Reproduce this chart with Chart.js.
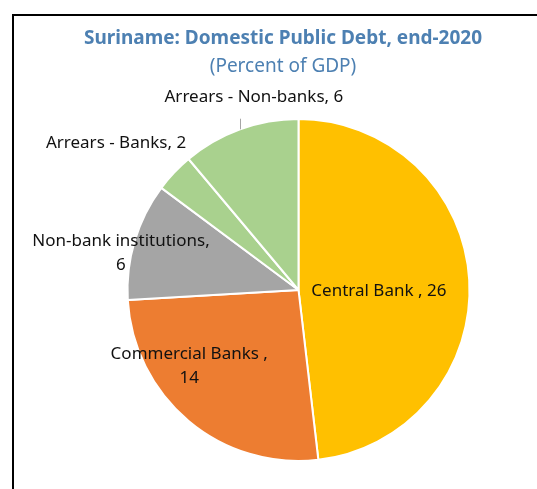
<!DOCTYPE html>
<html>
<head>
<meta charset="utf-8">
<script src="https://cdn.jsdelivr.net/npm/chart.js@4.4.1/dist/chart.umd.min.js"></script>
<style>
  html, body { margin: 0; padding: 0; background: #fff; overflow: hidden; }
  #frame { position: absolute; left: 12px; top: 14px; width: 620px; height: 620px;
           border-left: 2px solid #000; border-top: 2px solid #000; }
  #pie { position: absolute; left: 0; top: 0; }
</style>
</head>
<body>
<div id="frame"></div>
<canvas id="pie" width="537" height="489"></canvas>
<script>
/* Domestic public debt by holder, end-2020, % of GDP */
const categories = ['Central Bank ', 'Commercial Banks ', 'Non-bank institutions', 'Arrears - Banks', 'Arrears - Non-banks'];
const values = [26, 14, 6, 2, 6];
const sliceColors = ['#FFC000', '#ED7D31', '#A5A5A5', '#A9D18E', '#A9D18E'];

const TITLE = 'Suriname: Domestic Public Debt, end-2020';
const SUBTITLE = '(Percent of GDP)';
const TITLE_COLOR = '#4d80b2';
const FONT = '"Noto Sans", "Open Sans", sans-serif';

// label placement per slice: angular shift off the slice middle (deg),
// distance from centre in radii, whether the text wraps after the comma, leader line
const labelPlace = [
  { shift: 4,    dist: 0.47, wrap: false, leader: false },
  { shift: 15,   dist: 0.78, wrap: true,  leader: false },
  { shift: -5,   dist: 1.06, wrap: true,  leader: false },
  { shift: -4.5, dist: 1.37, wrap: false, leader: false },
  { shift: 7,    dist: 1.16, wrap: false, leader: true },
];

const labelLines = i => {
  const head = categories[i] + ',';
  return labelPlace[i].wrap ? [head, String(values[i])] : [head + ' ' + values[i]];
};

const pieText = {
  id: 'pieText',
  afterDraw(chart) {
    const ctx = chart.ctx;
    ctx.save();
    ctx.textAlign = 'center';
    ctx.textBaseline = 'middle';

    ctx.fillStyle = TITLE_COLOR;
    ctx.font = 'bold 19px ' + FONT;
    ctx.fillText(TITLE, 283, 39);
    ctx.font = '19px ' + FONT;
    ctx.fillText(SUBTITLE, 283, 67);

    const arcs = chart.getDatasetMeta(0).data;
    arcs.forEach((arc, i) => {
      const { x, y, startAngle, endAngle, outerRadius } =
        arc.getProps(['x', 'y', 'startAngle', 'endAngle', 'outerRadius'], true);
      const p = labelPlace[i];
      const mid = (startAngle + endAngle) / 2;
      const a = mid + p.shift * Math.PI / 180;
      const lx = x + Math.cos(a) * outerRadius * p.dist;
      const ly = y + Math.sin(a) * outerRadius * p.dist;
      const lines = labelLines(i);

      if (p.leader) {
        const ex = x + Math.cos(mid) * outerRadius;
        const ey = y + Math.sin(mid) * outerRadius;
        ctx.strokeStyle = '#a6a6a6';
        ctx.lineWidth = 1;
        ctx.beginPath();
        ctx.moveTo(Math.round(ex) + 0.5, ey);
        ctx.lineTo(Math.round(ex) + 0.5, ly + 22);
        ctx.stroke();
      }

      ctx.fillStyle = '#111';
      ctx.font = '17px ' + FONT;
      const top = ly - (lines.length - 1) * 12;
      lines.forEach((t, k) => ctx.fillText(t, lx, top + k * 24));
    });
    ctx.restore();
  }
};

new Chart(document.getElementById('pie'), {
  type: 'pie',
  data: {
    labels: categories,
    datasets: [{
      data: values,
      backgroundColor: sliceColors,
      borderColor: '#ffffff',
      borderWidth: 2,
    }],
  },
  options: {
    responsive: false,
    animation: false,
    radius: 171,
    layout: { padding: { left: 128, right: 68, top: 120, bottom: 29 } },
    plugins: { legend: { display: false }, tooltip: { enabled: false }, title: { display: false } },
  },
  plugins: [pieText],
});
</script>
</body>
</html>
